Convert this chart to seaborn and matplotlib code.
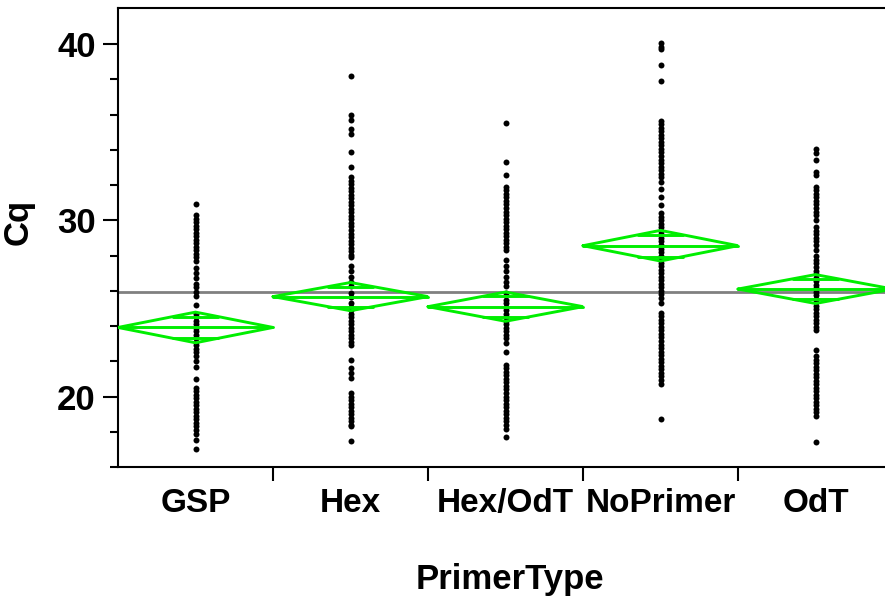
import matplotlib
matplotlib.use("Agg")
import numpy as np
import pandas as pd
import seaborn as sns
import matplotlib.pyplot as plt

categories = ["GSP", "Hex", "Hex/OdT", "NoPrimer", "OdT"]

gsp = [30.9, 30.3, 30.1, 29.9, 29.7, 29.5, 29.3, 29.1, 28.9, 28.7, 28.5, 28.3, 28.1,
       27.9, 27.7, 27.3, 27.0, 26.7, 26.4, 26.2, 25.95, 25.7, 25.2, 24.7, 24.5, 24.3,
       24.1, 23.9, 23.7, 23.5, 23.3, 23.1, 22.9, 22.7, 22.5, 22.3, 22.0, 21.7, 21.0,
       20.5, 20.3, 20.1, 19.9, 19.7, 19.5, 19.3, 19.1, 18.9, 18.7, 18.5, 18.3, 18.1,
       17.9, 17.55, 17.0]
hex_ = [38.2, 35.95, 35.7, 35.2, 34.9, 33.9, 33.0, 32.45, 32.25, 32.05, 31.85, 31.65,
        31.45, 31.25, 31.05, 30.85, 30.65, 30.45, 30.25, 30.05, 29.85, 29.65, 29.45,
        29.25, 29.05, 28.85, 28.65, 28.45, 28.25, 28.05, 27.9, 27.4, 27.1, 26.8, 26.5,
        26.25, 25.9, 25.65, 25.3, 25.1, 24.9, 24.7, 24.5, 24.3, 24.1, 23.9, 23.7, 23.5,
        23.3, 23.1, 22.9, 22.1, 21.6, 21.35, 21.05, 20.2, 20.0, 19.8, 19.6, 19.4, 19.2,
        19.0, 18.8, 18.6, 18.4, 18.3, 17.45]
hex_odt = [35.5, 33.3, 32.6, 31.9, 31.7, 31.5, 31.3, 31.1, 30.9, 30.7, 30.5, 30.3, 30.1,
           29.9, 29.7, 29.5, 29.3, 29.1, 28.9, 28.7, 28.5, 28.3, 27.75, 27.4, 27.1, 26.8,
           26.5, 26.25, 25.85, 25.5, 25.3, 25.1, 24.9, 24.7, 24.5, 24.3, 24.1, 23.9, 23.7,
           23.5, 23.3, 23.05, 22.55, 21.8, 21.6, 21.4, 21.2, 21.0, 20.8, 20.6, 20.4, 20.2,
           20.0, 19.8, 19.6, 19.4, 19.2, 19.0, 18.8, 18.6, 18.4, 18.15, 17.7]
noprimer = [40.05, 39.85, 39.7, 38.8, 37.9, 35.65, 35.45, 35.25, 35.05, 34.85, 34.65,
            34.45, 34.25, 34.05, 33.85, 33.65, 33.45, 33.25, 33.05, 32.85, 32.65, 32.45,
            32.2, 31.8, 31.35, 30.85, 30.4, 30.2, 30.0, 29.8, 29.6, 29.4, 29.2, 29.0, 28.8,
            28.6, 28.4, 28.2, 28.0, 27.8, 27.6, 27.4, 27.2, 27.0, 26.8, 26.6, 26.4, 26.2,
            26.0, 25.8, 25.6, 25.3, 24.75, 24.55, 24.35, 24.15, 23.95, 23.75, 23.55, 23.35,
            23.15, 22.95, 22.75, 22.55, 22.35, 22.15, 21.95, 21.75, 21.55, 21.35, 21.15,
            20.95, 20.7, 18.75]
odt = [34.05, 33.8, 33.4, 32.75, 32.55, 31.9, 31.7, 31.5, 31.3, 31.1, 30.9, 30.7, 30.5,
       30.3, 30.0, 29.6, 29.4, 29.2, 29.0, 28.8, 28.6, 28.3, 27.95, 27.75, 27.55, 27.35,
       27.15, 26.95, 26.75, 26.55, 26.35, 26.15, 25.95, 25.75, 25.55, 25.35, 25.15, 24.95,
       24.75, 24.55, 24.35, 24.15, 23.95, 23.8, 22.65, 22.3, 22.1, 21.9, 21.7, 21.5, 21.3,
       21.1, 20.9, 20.7, 20.5, 20.3, 20.1, 19.9, 19.7, 19.5, 19.3, 19.1, 18.9, 17.4]

group_means = [23.92, 25.67, 25.10, 28.56, 26.10]
group_ci_half = [0.87, 0.80, 0.83, 0.87, 0.82]
grand_mean = 25.94

series = [gsp, hex_, hex_odt, noprimer, odt]
df = pd.concat(
    [pd.DataFrame({"PrimerType": c, "Cq": v}) for c, v in zip(categories, series)],
    ignore_index=True,
)

sns.set_theme(style="white")
plt.rcParams["font.family"] = ["Liberation Sans", "DejaVu Sans"]

fig = plt.figure(figsize=(8.85, 6.02), dpi=100)
ax = fig.add_axes([118 / 885, 135 / 602, 775 / 885, 459 / 602])

ax.axhline(grand_mean, color="#808080", lw=2.0, zorder=1)

sns.stripplot(data=df, x="PrimerType", y="Cq", order=categories, jitter=False,
              color="black", size=4.3, linewidth=0, ax=ax, zorder=3)

green = "#00EE00"
lw_d = 2.1
for i, (m, h) in enumerate(zip(group_means, group_ci_half)):
    xs = [i - 0.5, i, i + 0.5, i, i - 0.5]
    ys = [m, m + h, m, m - h, m]
    ax.plot(xs, ys, color=green, lw=lw_d, zorder=4, solid_joinstyle="miter")
    ax.plot([i - 0.5, i + 0.5], [m, m], color=green, lw=lw_d, zorder=4)
    off = h / np.sqrt(2)
    w = 0.5 * (1 - 1 / np.sqrt(2))
    for s in (1, -1):
        ax.plot([i - w, i + w], [m + s * off, m + s * off], color=green, lw=lw_d, zorder=4)

ax.set_xlim(-0.5, 4.5)
ax.set_ylim(16, 42.05)

ax.set_yticks([20, 30, 40])
ax.set_yticks(np.arange(16, 42, 2), minor=True)
ax.set_xticks(range(len(categories)))
ax.set_xticklabels(categories)
ax.set_xticks([0.5, 1.5, 2.5, 3.5], minor=True)

ax.tick_params(axis="y", which="major", left=True, length=11, width=1.5, color="black",
               labelsize=25, pad=5, labelcolor="black")
ax.tick_params(axis="y", which="minor", left=True, length=6, width=1.5, color="black")
ax.tick_params(axis="x", which="major", bottom=True, length=0, pad=15, labelsize=24,
               labelcolor="black")
ax.tick_params(axis="x", which="minor", bottom=True, length=10, width=1.5, color="black")
for lab in ax.get_xticklabels() + ax.get_yticklabels():
    lab.set_fontweight("bold")

for side in ("left", "bottom", "top"):
    ax.spines[side].set_color("black")
    ax.spines[side].set_linewidth(1.5)
ax.spines["right"].set_visible(False)

ax.set_ylabel("Cq", fontsize=25, fontweight="bold", color="black")
ax.yaxis.set_label_coords(-0.107, 0.534)
ax.set_xlabel("PrimerType", fontsize=25, fontweight="bold", color="black")
ax.xaxis.set_label_coords(0.506, -0.21)

fig.savefig("out.png", dpi=100)
